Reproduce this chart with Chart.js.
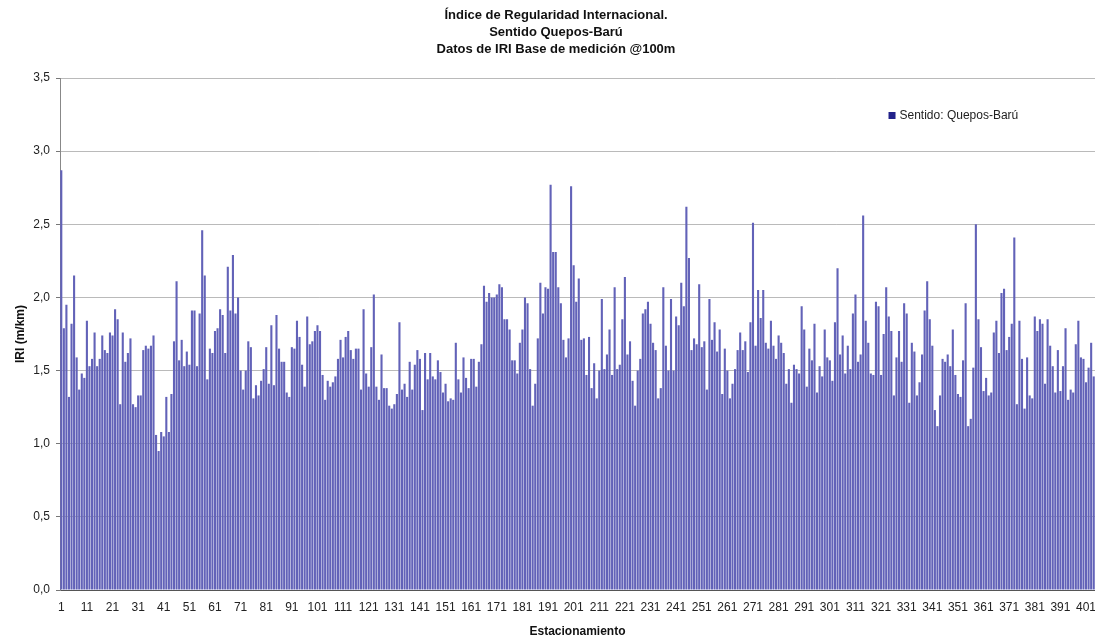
<!DOCTYPE html>
<html>
<head>
<meta charset="utf-8">
<script src="https://cdn.jsdelivr.net/npm/chart.js@4/dist/chart.umd.min.js"></script>
<style>
  html, body { margin: 0; padding: 0; background: #ffffff; }
  #wrap { width: 1095px; height: 641px; }
</style>
</head>
<body>
<div id="wrap"><canvas id="c" width="1095" height="641"></canvas></div>
<script>
// Chart texts
const titleLines = [
  'Índice de Regularidad Internacional.',
  'Sentido Quepos-Barú',
  'Datos de IRI Base de medición @100m'
];
const seriesName = 'Sentido: Quepos-Barú';
const xTitle = 'Estacionamiento';
const yTitle = 'IRI (m/km)';

// IRI per 100 m station (m/km)
const iriValues = [
  2.87,1.79,1.95,1.32,1.82,2.15,1.59,1.37,1.48,1.45,1.84,1.53,1.58,1.76,1.53,1.58,1.74,1.64,1.62,1.76,
  1.74,1.92,1.85,1.27,1.76,1.56,1.62,1.72,1.27,1.25,1.33,1.33,1.64,1.67,1.65,1.67,1.74,1.06,0.95,1.08,
  1.05,1.32,1.08,1.34,1.70,2.11,1.57,1.71,1.53,1.63,1.54,1.91,1.91,1.53,1.89,2.46,2.15,1.44,1.65,1.62,
  1.77,1.79,1.92,1.88,1.62,2.21,1.91,2.29,1.89,2.00,1.50,1.37,1.50,1.70,1.66,1.31,1.40,1.33,1.43,1.51,
  1.66,1.41,1.81,1.40,1.88,1.65,1.56,1.56,1.35,1.32,1.66,1.65,1.84,1.73,1.54,1.39,1.87,1.68,1.70,1.77,
  1.81,1.77,1.47,1.30,1.43,1.39,1.42,1.46,1.58,1.71,1.59,1.73,1.77,1.64,1.58,1.65,1.65,1.37,1.92,1.48,
  1.39,1.66,2.02,1.39,1.30,1.61,1.38,1.38,1.26,1.24,1.27,1.34,1.83,1.37,1.41,1.32,1.56,1.37,1.54,1.64,
  1.58,1.23,1.62,1.44,1.62,1.46,1.44,1.57,1.49,1.35,1.41,1.29,1.31,1.30,1.69,1.44,1.35,1.59,1.45,1.38,
  1.58,1.58,1.39,1.56,1.68,2.08,1.97,2.03,2.00,2.00,2.02,2.09,2.07,1.85,1.85,1.78,1.57,1.57,1.48,1.69,
  1.78,2.00,1.96,1.51,1.26,1.41,1.72,2.10,1.89,2.07,2.06,2.77,2.31,2.31,2.07,1.96,1.71,1.59,1.72,2.76,
  2.22,1.97,2.13,1.71,1.72,1.47,1.73,1.38,1.55,1.31,1.50,1.99,1.51,1.61,1.78,1.47,2.07,1.51,1.54,1.85,
  2.14,1.61,1.70,1.43,1.26,1.50,1.58,1.89,1.92,1.97,1.82,1.69,1.64,1.31,1.38,2.07,1.67,1.50,1.99,1.50,
  1.87,1.81,2.10,1.94,2.62,2.27,1.64,1.72,1.68,2.09,1.66,1.70,1.37,1.99,1.71,1.83,1.63,1.78,1.34,1.65,
  1.50,1.31,1.41,1.51,1.64,1.76,1.64,1.70,1.49,1.83,2.51,1.67,2.05,1.86,2.05,1.69,1.65,1.84,1.67,1.58,
  1.74,1.69,1.62,1.41,1.51,1.28,1.54,1.51,1.48,1.94,1.78,1.39,1.65,1.57,1.82,1.35,1.53,1.46,1.78,1.59,
  1.57,1.43,1.83,2.20,1.61,1.74,1.48,1.67,1.51,1.89,2.02,1.56,1.61,2.56,1.84,1.69,1.48,1.47,1.97,1.94,
  1.47,1.75,2.07,1.87,1.77,1.33,1.59,1.77,1.56,1.96,1.89,1.28,1.69,1.63,1.33,1.42,1.61,1.91,2.11,1.85,
  1.67,1.23,1.12,1.33,1.58,1.56,1.61,1.53,1.78,1.47,1.34,1.32,1.57,1.96,1.12,1.17,1.52,2.50,1.85,1.66,
  1.36,1.45,1.33,1.35,1.76,1.84,1.62,2.03,2.06,1.64,1.73,1.82,2.41,1.27,1.84,1.58,1.24,1.59,1.33,1.31,
  1.87,1.77,1.85,1.82,1.41,1.85,1.67,1.53,1.35,1.64,1.36,1.53,1.79,1.30,1.37,1.35,1.68,1.84,1.59,1.58,
  1.42,1.52,1.69,1.46
];

// Station numbers (1, 2, 3, ...) used as categories
const stations = iriValues.map((_, i) => String(i + 1));

// Station numbers printed under the axis
const tickLabels = ['1','11','21','31','41','51','61','71','81','91','101','111','121','131','141',
  '151','161','171','181','191','201','211','221','231','241','251','261','271','281','291','301',
  '311','321','331','341','351','361','371','381','391','401'];

// Y axis range and step
const yMin = 0, yMax = 3.5, yStep = 0.5;

const FONT = '"Liberation Sans", Arial, sans-serif';
const barColor = '#6262b8';
const legendColor = '#22228a';

// Draws the three-line heading and the in-plot legend
const decorations = {
  id: 'decorations',
  afterDraw(chart) {
    const ctx = chart.ctx;
    const area = chart.chartArea;
    ctx.save();
    ctx.fillStyle = '#111';
    ctx.font = 'bold 13px ' + FONT;
    ctx.textAlign = 'center';
    ctx.textBaseline = 'middle';
    titleLines.forEach((t, i) => ctx.fillText(t, 556, 15.5 + i * 17));

    const lx = area.left + (area.right - area.left) * 0.8005;
    const ly = area.top + 38;
    ctx.fillStyle = legendColor;
    ctx.fillRect(lx, ly - 4, 7, 7);
    ctx.fillStyle = '#222';
    ctx.font = '12px ' + FONT;
    ctx.textAlign = 'left';
    ctx.fillText(chart.data.datasets[0].label, lx + 11, ly);
    ctx.restore();
  }
};

new Chart(document.getElementById('c'), {
  type: 'bar',
  data: {
    labels: stations,
    datasets: [{
      label: seriesName,
      data: iriValues,
      backgroundColor: barColor,
      borderWidth: 0,
      barPercentage: 0.82,
      categoryPercentage: 1.0
    }]
  },
  options: {
    responsive: false,
    animation: false,
    layout: { padding: { top: 78, right: 0, bottom: 0, left: 0 } },
    plugins: {
      legend: { display: false },
      title: { display: false },
      tooltip: { enabled: false }
    },
    scales: {
      x: {
        type: 'category',
        offset: true,
        grid: { display: false, drawTicks: true, tickLength: 10 },
        border: { display: true, color: '#555', width: 1 },
        ticks: {
          autoSkip: false,
          maxRotation: 0,
          minRotation: 0,
          padding: 0,
          color: '#222',
          font: { family: FONT, size: 12 },
          callback: function (v) {
            const lab = this.getLabelForValue(v);
            return tickLabels.includes(lab) ? lab : '';
          }
        },
        title: {
          display: true,
          text: xTitle,
          color: '#111',
          padding: 2,
          font: { family: FONT, size: 12, weight: 'bold' }
        },
        afterFit(scale) { scale.height = 51; }
      },
      y: {
        min: yMin,
        max: yMax,
        z: 1,
        grid: {
          color: 'rgba(0,0,0,0.27)',
          lineWidth: 1,
          drawTicks: true,
          tickLength: 4,
          tickColor: '#777'
        },
        border: { display: true, color: '#888', width: 1 },
        ticks: {
          stepSize: yStep,
          padding: 6,
          color: '#222',
          font: { family: FONT, size: 12 },
          callback: (v) => v.toFixed(1).replace('.', ',')
        },
        title: {
          display: true,
          text: yTitle,
          color: '#111',
          padding: 13,
          font: { family: FONT, size: 12, weight: 'bold' }
        },
        afterFit(scale) { scale.width = 60; }
      }
    }
  },
  plugins: [decorations]
});
</script>
</body>
</html>
